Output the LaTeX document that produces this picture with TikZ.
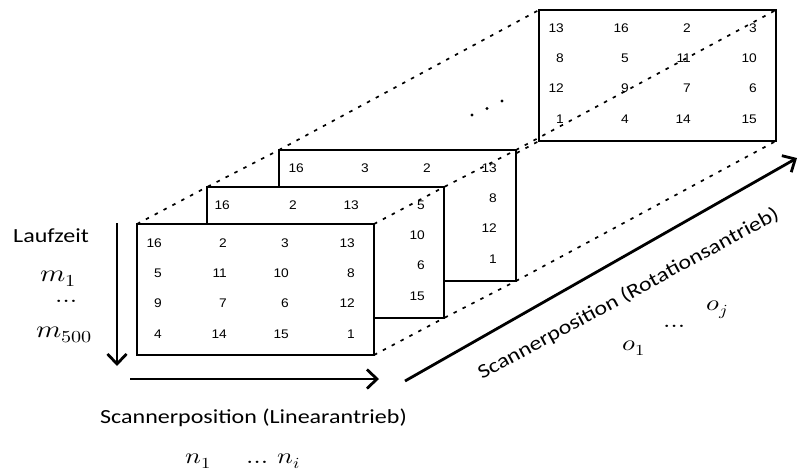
\documentclass[tikz,border=0pt]{standalone}
\usepackage{fontspec}
\usepackage{unicode-math}
\setmathfont{Latin Modern Math}
\usepackage{graphicx}
\usetikzlibrary{arrows.meta,calc}
\newfontfamily\lblfont[FakeStretch=1.2]{Carlito}
\newfontfamily\numfont[FakeStretch=1.1]{Liberation Sans}
\newcommand{\wide}[1]{\scalebox{1.2}[1]{#1}}
% one row of entries: #1 box, #2 row index, #3 offset below the top edge, #4 list of x/value
\newcommand{\fillrow}[4]{%
  \foreach \x/\v in {#4} \node[num] (#1-#2-\x) at ($(#1.north west)+(\x,#3)$) {\v};}
\pgfdeclarelayer{back}
\pgfsetlayers{back,main}

\begin{document}
\begin{tikzpicture}[x=1pt,y=-1pt,
  mat/.style={draw, line width=1.3pt, fill=white, minimum width=237pt,
    minimum height=131pt, inner sep=0pt, outer sep=0pt, anchor=north west},
  num/.style={anchor=base east, inner sep=0pt, font=\numfont\fontsize{12.5}{14}\selectfont},
  guide/.style={line width=1.7pt, dash pattern=on 3.5pt off 6.5pt},
  axis/.style={line width=2.8pt, -{Straight Barb[length=10pt,width=19pt]}},
  lbl/.style={font=\lblfont\fontsize{20}{24}\selectfont, inner sep=0pt, anchor=base west},
  mth/.style={font=\fontsize{24}{28}\selectfont, inner sep=0pt, anchor=base west},
  mths/.style={font=\fontsize{22}{26}\selectfont, inner sep=0pt, anchor=base west}]
\useasboundingbox (0,0) rectangle (799,472);

% stack of measurement matrices, back to front
\node[mat] (l) at (539,10) {};
\fillrow{l}{1}{22}{25/13,90/16,152/2,218/3}
\fillrow{l}{2}{52}{25/8,90/5,152/11,218/10}
\fillrow{l}{3}{82}{25/12,90/9,152/7,218/6}
\fillrow{l}{4}{113}{25/1,90/4,152/14,218/15}

\node[mat] (t) at (279,150) {};
\fillrow{t}{1}{22}{25/16,90/3,152/2,218/13}
\fillrow{t}{2}{52}{218/8}
\fillrow{t}{3}{82}{218/12}
\fillrow{t}{4}{113}{218/1}

\node[mat] (s) at (207,187) {};
\fillrow{s}{1}{22}{23/16,90/2,152/13,218/5}
\fillrow{s}{2}{52}{218/10}
\fillrow{s}{3}{82}{218/6}
\fillrow{s}{4}{113}{218/15}

\node[mat] (f) at (137,224) {};
\fillrow{f}{1}{23}{25/16,90/2,152/3,218/13}
\fillrow{f}{2}{53}{25/5,90/11,152/10,218/8}
\fillrow{f}{3}{83}{25/9,90/7,152/6,218/12}
\fillrow{f}{4}{114}{25/4,90/14,152/15,218/1}

% depth guides through the corners
\begin{pgfonlayer}{back}
  \draw[guide] (f.north west) -- (s.north west) -- (t.north west) -- (l.north west);
  \draw[guide] (f.south west) -- (s.south west) -- (t.south west) -- (l.south west);
\end{pgfonlayer}
\draw[guide] (f.north east) -- (s.north east) -- (t.north east) -- (l.north east);
\draw[guide] (f.south east) -- (s.south east) -- (t.south east) -- (l.south east);

% ellipsis between the stacks
\fill (472,115) circle (1.6pt) (487,108.5) circle (1.6pt) (502,101) circle (1.6pt);

% axes
\coordinate (tdown) at (117,223);
\coordinate (bdown) at (117,366);
\draw[axis] (tdown) -- (bdown);
\coordinate (lin0) at (130,379);
\coordinate (lin1) at (379,379);
\draw[axis] (lin0) -- (lin1);
\coordinate (rot0) at (405,381);
\coordinate (rot1) at (797,158);
\draw[axis] (rot0) -- (rot1);

% labels
\node[lbl] (laufzeit) at (13,242) {Laufzeit};
\node[mth] (m1) at (40,281) {\wide{$m_1$}};
\node[mths] (mdots) at (55,302) {\wide{$\dots$}};
\node[mth] (m500) at (36,337) {\wide{$m_{500}$}};

\node[lbl] (linear) at (100,423) {Scannerposition (Linearantrieb)};
\node[mths] (n1) at (185,463) {\wide{$n_1$}};
\node[mths] (ndots) at (246,463) {\wide{$\dots$}};
\node[mths] (ni) at (277,463) {\wide{$n_i$}};

\node[lbl, rotate=28.5] (rotation) at (482,380) {Scannerposition (Rotationsantrieb)};
\node[mths] (o1) at (622,350) {\wide{$o_1$}};
\node[mths] (odots) at (663,327) {\wide{$\dots$}};
\node[mths] (oj) at (706,310) {\wide{$o_j$}};
\end{tikzpicture}
\end{document}
